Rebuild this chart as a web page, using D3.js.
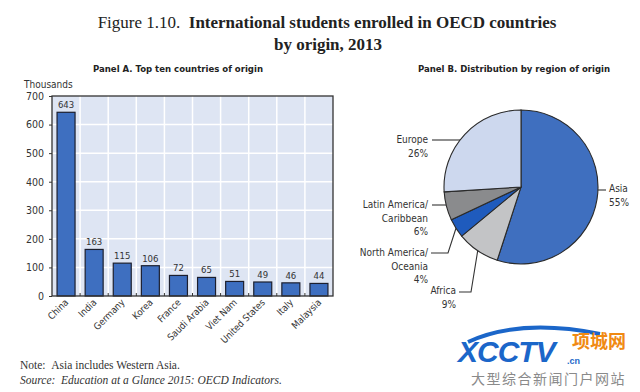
<!DOCTYPE html>
<html>
<head>
<meta charset="utf-8">
<script src="https://cdn.jsdelivr.net/npm/d3@7"></script>
<style>
  body { margin: 0; background: #fff; }
  text { font-family: "Liberation Sans Narrow", "DejaVu Sans Condensed", "Liberation Sans", sans-serif; }
  .serif { font-family: "Liberation Serif", "DejaVu Serif", serif; }
</style>
</head>
<body>
<svg id="chart" width="640" height="392"></svg>
<script>
// Panel A
const countries = ['China', 'India', 'Germany', 'Korea', 'France', 'Saudi Arabia', 'Viet Nam', 'United States', 'Italy', 'Malaysia'];
const students = [643, 163, 115, 106, 72, 65, 51, 49, 46, 44];
const yTicks = [0, 100, 200, 300, 400, 500, 600, 700];

// Panel B
const regions = ['Asia', 'Africa', 'North America/Oceania', 'Latin America/Caribbean', 'Europe'];
const shares = [55, 9, 4, 6, 26];
const regionLines = [['Asia', '55%'], ['Africa', '9%'], ['North America/', 'Oceania', '4%'], ['Latin America/', 'Caribbean', '6%'], ['Europe', '26%']];
const regionColors = ['#3f6fbf', '#c3c4c6', '#1f5bbd', '#8a8b8d', '#cdd8ee'];

const svg = d3.select('#chart');

// Titles
const t1 = svg.append('text').attr('class', 'serif').attr('x', 327).attr('y', 28)
  .attr('text-anchor', 'middle').attr('font-size', 17).attr('fill', '#222');
t1.append('tspan').text('Figure 1.10.\u00a0\u00a0');
t1.append('tspan').attr('font-weight', 'bold').text('International students enrolled in OECD countries');
svg.append('text').attr('class', 'serif').attr('x', 328).attr('y', 50)
  .attr('text-anchor', 'middle').attr('font-size', 17).attr('font-weight', 'bold').attr('fill', '#222')
  .text('by origin, 2013');

svg.append('text').attr('x', 178).attr('y', 72).attr('text-anchor', 'middle')
  .attr('font-size', 9.5).attr('font-weight', 'bold').attr('fill', '#222')
  .text('Panel A. Top ten countries of origin');
svg.append('text').attr('x', 514).attr('y', 72).attr('text-anchor', 'middle')
  .attr('font-size', 9.5).attr('font-weight', 'bold').attr('fill', '#222')
  .text('Panel B. Distribution by region of origin');

// ---- Bars
const pLeft = 52, pRight = 333, pTop = 96, pBottom = 296;
const x = d3.scaleBand().domain(countries).range([pLeft, pRight]).paddingInner(0.36).paddingOuter(0.18);
const y = d3.scaleLinear().domain([0, 700]).range([pBottom, pTop]);
const bounds = d3.range(1, countries.length).map(i => pLeft + i * (pRight - pLeft) / countries.length);

svg.append('rect').attr('x', pLeft).attr('y', pTop).attr('width', pRight - pLeft).attr('height', pBottom - pTop)
  .attr('fill', '#dee5f3');

svg.append('g').selectAll('line').data(yTicks.slice(1, -1)).join('line')
  .attr('x1', pLeft).attr('x2', pRight).attr('y1', d => y(d)).attr('y2', d => y(d))
  .attr('stroke', '#fff').attr('stroke-width', 1.5);
svg.append('g').selectAll('line').data(bounds).join('line')
  .attr('x1', d => d).attr('x2', d => d).attr('y1', pTop).attr('y2', pBottom)
  .attr('stroke', '#fff').attr('stroke-width', 1.5);

svg.append('g').selectAll('rect').data(students).join('rect')
  .attr('x', (d, i) => x(countries[i]))
  .attr('y', d => y(d))
  .attr('width', x.bandwidth())
  .attr('height', d => pBottom - y(d))
  .attr('fill', '#3e6fc0').attr('stroke', '#1c1f2e').attr('stroke-width', 1.2);

svg.append('g').selectAll('text').data(students).join('text')
  .attr('x', (d, i) => x(countries[i]) + x.bandwidth() / 2)
  .attr('y', d => y(d) - 4)
  .attr('text-anchor', 'middle').attr('font-size', 9.5).attr('fill', '#333')
  .text(d => d);

svg.append('rect').attr('x', pLeft).attr('y', pTop).attr('width', pRight - pLeft).attr('height', pBottom - pTop)
  .attr('fill', 'none').attr('stroke', '#333').attr('stroke-width', 1.3);

// small ticks at category boundaries
svg.append('g').selectAll('line').data(bounds).join('line')
  .attr('x1', d => d).attr('x2', d => d).attr('y1', pBottom).attr('y2', pBottom - 3)
  .attr('stroke', '#333').attr('stroke-width', 1);

const yAxis = svg.append('g').attr('transform', `translate(${pLeft},0)`)
  .call(d3.axisLeft(y).tickValues(yTicks).tickSize(3).tickPadding(5));
yAxis.select('.domain').remove();
yAxis.selectAll('line').attr('stroke', '#333');
yAxis.selectAll('text').attr('font-size', 10.5).attr('fill', '#333')
  .style('font-family', '"Liberation Sans Narrow", "DejaVu Sans Condensed", sans-serif');

svg.append('text').attr('x', 24).attr('y', 88).attr('font-size', 10).attr('fill', '#333').text('Thousands');

svg.append('g').selectAll('text').data(countries).join('text')
  .attr('transform', d => `translate(${x(d) + x.bandwidth() / 2 + 3},${pBottom + 7}) rotate(-45)`)
  .attr('text-anchor', 'end').attr('font-size', 9.5).attr('fill', '#333')
  .text(d => d);

// ---- Pie
const cx = 521, cy = 187, r = 77;
const pie = d3.pie().sort(null).value(d => d)(shares);
const arc = d3.arc().innerRadius(0).outerRadius(r);
const g = svg.append('g').attr('transform', `translate(${cx},${cy})`);
g.selectAll('path').data(pie).join('path')
  .attr('d', arc)
  .attr('fill', (d, i) => regionColors[i])
  .attr('stroke', '#2a2a2a').attr('stroke-width', 1.1);

// label layout: text anchor position, line y for leader, optional elbow
const labelPos = [
  { tx: 609, ty: 192, anchor: 'start', ly: 190, side: 1 },
  { tx: 456, ty: 294, anchor: 'end', ly: 292, side: -1, elbow: 471 },
  { tx: 428, ty: 256, anchor: 'end', ly: 253, side: -1, elbow: 448 },
  { tx: 428, ty: 208, anchor: 'end', ly: 205, side: -1 },
  { tx: 428, ty: 143, anchor: 'end', ly: 140, side: -1 }
];

pie.forEach((p, i) => {
  const L = labelPos[i];
  let pts;
  if (L.elbow) {
    const a = (p.startAngle + p.endAngle) / 2;
    const ex = cx + r * Math.sin(a), ey = cy - r * Math.cos(a);
    pts = [[L.tx + 3, L.ly], [L.elbow, L.ly], [ex, ey]];
  } else {
    const dy = L.ly - cy;
    const edge = cx + L.side * Math.sqrt(r * r - dy * dy);
    const start = L.side > 0 ? L.tx - 3 : L.tx + 4;
    pts = [[start, L.ly], [edge, L.ly]];
  }
  svg.append('path').attr('d', d3.line()(pts)).attr('fill', 'none')
    .attr('stroke', '#333').attr('stroke-width', 1.1);
  const t = svg.append('text').attr('font-size', 10).attr('fill', '#333').attr('text-anchor', L.anchor);
  regionLines[i].forEach((s, k) => {
    t.append('tspan').attr('x', L.tx).attr('y', L.ty + k * 13.5).text(s);
  });
});

// ---- Notes
svg.append('text').attr('class', 'serif').attr('x', 20).attr('y', 369).attr('font-size', 11.5).attr('fill', '#333')
  .text('Note:\u00a0\u00a0Asia includes Western Asia.');
const src = svg.append('text').attr('class', 'serif').attr('x', 20).attr('y', 384).attr('font-size', 11.5).attr('fill', '#333');
src.append('tspan').attr('font-style', 'italic').text('Source:\u00a0\u00a0');
src.append('tspan').attr('font-style', 'italic').text('Education at a Glance 2015: OECD Indicators.');

// ---- Watermark
svg.append('path').attr('d', 'M468,342 Q520,318 600,334').attr('fill', 'none')
  .attr('stroke', '#1b66c9').attr('stroke-width', 4);
svg.append('text').attr('x', 458).attr('y', 362).attr('font-size', 30).attr('font-weight', 'bold')
  .attr('font-style', 'italic').attr('fill', '#1b66c9').attr('letter-spacing', -1)
  .style('font-family', '"Liberation Sans", Arial, sans-serif').text('XCCTV');
svg.append('text').attr('x', 567).attr('y', 364).attr('font-size', 9).attr('font-weight', 'bold')
  .attr('fill', '#1b66c9').style('font-family', '"Liberation Sans", sans-serif').text('.cn');
svg.append('text').attr('x', 572).attr('y', 348).attr('font-size', 18).attr('font-weight', 'bold')
  .attr('fill', '#f08a12').style('font-family', '"Noto Sans CJK SC", sans-serif').text('项城网');
svg.append('text').attr('x', 471).attr('y', 384).attr('font-size', 14)
  .attr('fill', '#8a8a8a').attr('letter-spacing', 1.5).style('font-family', '"Noto Sans CJK SC", sans-serif')
  .text('大型综合新闻门户网站');
</script>
</body>
</html>
